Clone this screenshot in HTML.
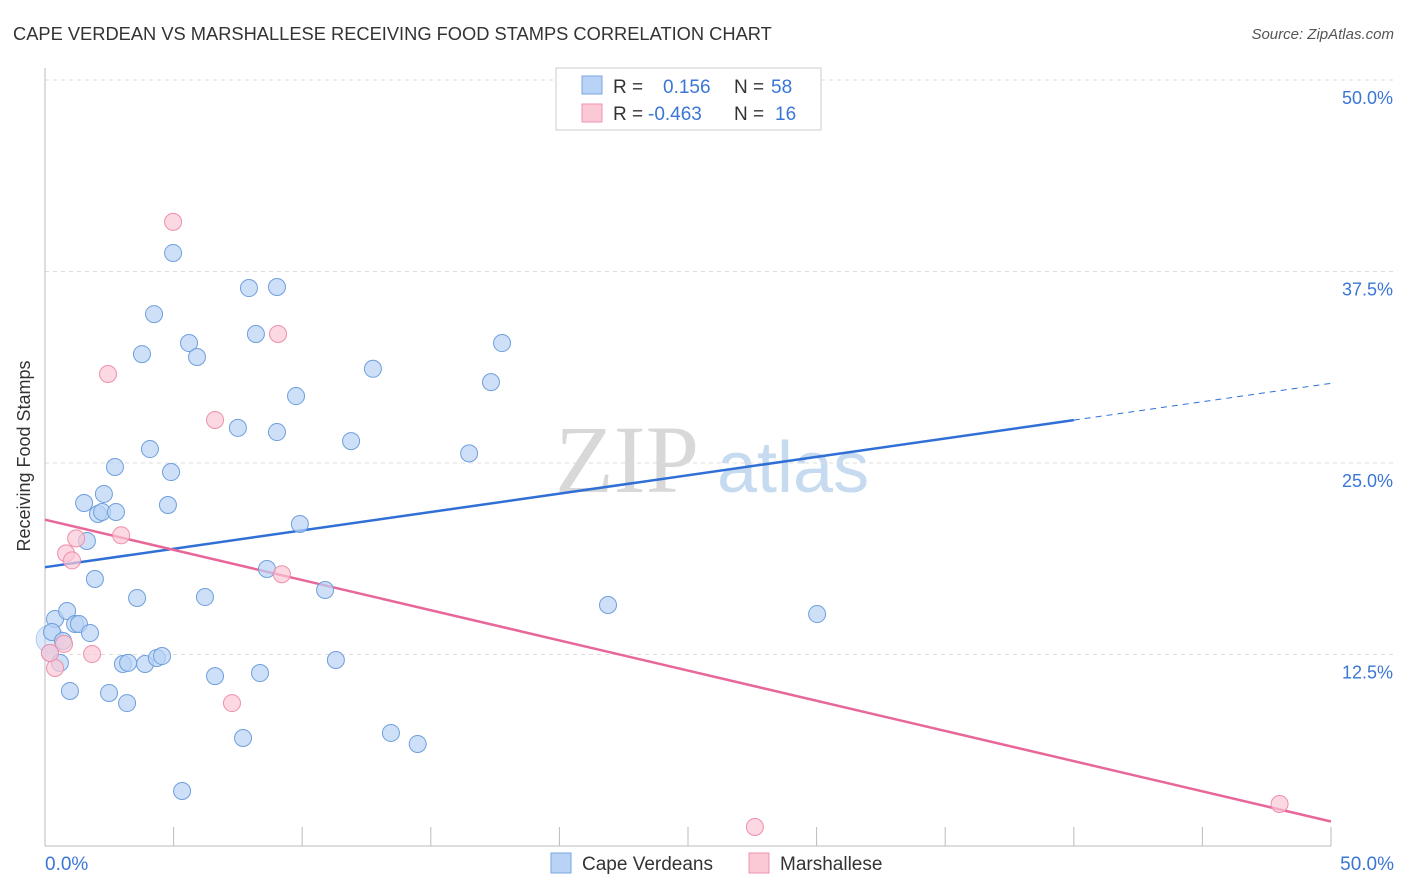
<!DOCTYPE html>
<html><head><meta charset="utf-8"><style>
body{margin:0;background:#fff;font-family:"Liberation Sans",sans-serif}
svg{display:block}
</style></head><body>
<svg id="chart" width="1406" height="892">
<text x="13" y="40" font-size="18.3" fill="#333">CAPE VERDEAN VS MARSHALLESE RECEIVING FOOD STAMPS CORRELATION CHART</text>
<text x="1394" y="39" font-size="15" fill="#555" font-style="italic" text-anchor="end">Source: ZipAtlas.com</text>
<text x="30" y="456" font-size="18" fill="#333" transform="rotate(-90 30 456)" text-anchor="middle">Receiving Food Stamps</text>
<g><text x="555" y="492" font-size="96" fill="#d8d8d8" font-family="Liberation Serif,serif">ZIP</text><text x="717" y="492" font-size="72" fill="#c6daf0">atlas</text></g>
<g id="grid"></g><g id="lines"></g><g id="pts"></g>
<g>
<rect x="556" y="68" width="265" height="62" fill="#fff" stroke="#ccc"/>
<rect x="582" y="76" width="20" height="18" fill="#b8d3f5" stroke="#7aa7e0"/>
<rect x="582" y="104" width="20" height="18" fill="#fbc8d6" stroke="#ef93ad"/>
<text x="613" y="93" font-size="19" fill="#333">R = <tspan x="663" fill="#3b76d6">0.156</tspan><tspan x="734">N = </tspan><tspan x="771" fill="#3b76d6">58</tspan></text>
<text x="613" y="120" font-size="19" fill="#333">R = <tspan x="648" fill="#3b76d6">-0.463</tspan><tspan x="734">N = </tspan><tspan x="775" fill="#3b76d6">16</tspan></text>
</g>
<g>
<rect x="551" y="853" width="20" height="20" fill="#b8d3f5" stroke="#7aa7e0"/>
<text x="582" y="870" font-size="19" fill="#333">Cape Verdeans</text>
<rect x="749" y="853" width="20" height="20" fill="#fbc8d6" stroke="#ef93ad"/>
<text x="780" y="870" font-size="19" fill="#333">Marshallese</text>
</g>
</svg>
<script>
const yTicks=[12.5,25,37.5,50];
const yTickLabels=["12.5%","25.0%","37.5%","50.0%"];
const xTickLabels=["0.0%","50.0%"];
const blueX=[0.39,0.27,0.19,0.58,0.70,0.97,0.86,1.17,1.32,1.52,1.63,1.75,1.94,2.06,2.29,2.22,2.76,2.72,2.49,3.19,3.03,3.23,3.58,3.77,3.89,4.08,4.24,4.35,4.55,4.78,4.90,4.98,5.33,5.60,5.91,6.22,6.61,7.50,7.70,7.93,8.20,8.36,8.63,9.02,9.02,9.76,9.91,10.89,11.31,11.90,12.75,13.45,14.49,16.49,17.34,17.77,21.89,30.02];
const blueY=[14.82,13.97,12.60,11.95,13.38,10.12,15.34,14.49,14.49,22.39,19.91,13.90,17.43,21.67,22.98,21.80,21.80,24.74,9.99,9.33,11.88,11.95,16.19,32.11,11.88,25.91,34.72,12.27,12.40,22.26,24.41,38.71,3.59,32.83,31.92,16.25,11.09,27.29,7.05,36.42,33.42,11.29,18.08,36.49,27.02,29.37,21.02,16.71,12.14,26.43,31.15,7.38,6.66,25.63,30.28,32.83,15.73,15.14];
const pinkX=[4.98,2.45,9.06,6.61,2.96,1.21,0.82,1.05,0.74,0.39,1.83,7.27,9.21,27.60,48.00,0.19];
const pinkY=[40.74,30.81,33.42,27.81,20.28,20.08,19.10,18.64,13.19,11.62,12.53,9.33,17.74,1.24,2.74,12.60];
const blueTrend=[18.2,30.2], pinkTrend=[21.3,1.6], solidEnd=40;
const X=v=>45+v*25.72, Y=v=>846-v*15.32;
const ns="http://www.w3.org/2000/svg";
function mk(t,a,p){const e=document.createElementNS(ns,t);for(const k in a)e.setAttribute(k,a[k]);p.appendChild(e);return e;}
const g=document.getElementById('grid');
yTicks.forEach((t,i)=>{
 const l=mk('line',{x1:45,x2:1394,y1:Y(t),y2:Y(t),stroke:'#ddd','stroke-dasharray':'4,4'},g);
 
 
 const tx=mk('text',{x:1393,y:Y(t)+24,'font-size':18,fill:'#3b76d6','text-anchor':'end'},g);
 tx.textContent=yTickLabels[i];
 
 
});
const ax=mk('line',{x1:45,x2:1331,y1:846,y2:846,stroke:'#bbb'},g);


const ay=mk('line',{x1:45,x2:45,y1:68,y2:846,stroke:'#bbb'},g);


for(let i=0;i<=10;i++){const t=mk('line',{x1:X(i*5),x2:X(i*5),y1:827,y2:846,stroke:'#bbb'},g);
 
 }
[[0,'start',45],[50,'end',1394]].forEach((d,i)=>{const t=mk('text',{x:d[2],y:870,'font-size':19,fill:'#3b76d6','text-anchor':d[1]},g);t.textContent=xTickLabels[i];
 
 });
const pg=document.getElementById('pts');
const big=mk('circle',{cx:X(0.2),cy:Y(13.5),r:14,fill:'#b8d3f5','fill-opacity':0.5,stroke:'#7aa7e0','stroke-opacity':0.5},pg);


blueX.forEach((v,i)=>{const c=mk('circle',{cx:X(v),cy:Y(blueY[i]),r:8.5,fill:'#b8d3f5','fill-opacity':0.7,stroke:'#6f9fdc'},pg);
 
 });
pinkX.forEach((v,i)=>{const c=mk('circle',{cx:X(v),cy:Y(pinkY[i]),r:8.5,fill:'#fbc8d6','fill-opacity':0.7,stroke:'#ee8fab'},pg);
 
 });
const lg=document.getElementById('lines');
const by=x=>blueTrend[0]+(blueTrend[1]-blueTrend[0])*x/50;
const l1=mk('line',{x1:X(0),y1:Y(by(0)),x2:X(solidEnd),y2:Y(by(solidEnd)),stroke:'#2f6fd6','stroke-width':2.5},lg);


const l2=mk('line',{x1:X(solidEnd),y1:Y(by(solidEnd)),x2:X(50),y2:Y(by(50)),stroke:'#2f6fd6','stroke-width':1,'stroke-dasharray':'6,5'},lg);


const l3=mk('line',{x1:X(0),y1:Y(pinkTrend[0]),x2:X(50),y2:Y(pinkTrend[1]),stroke:'#e8679a','stroke-width':2.5},lg);


</script>
</body></html>
